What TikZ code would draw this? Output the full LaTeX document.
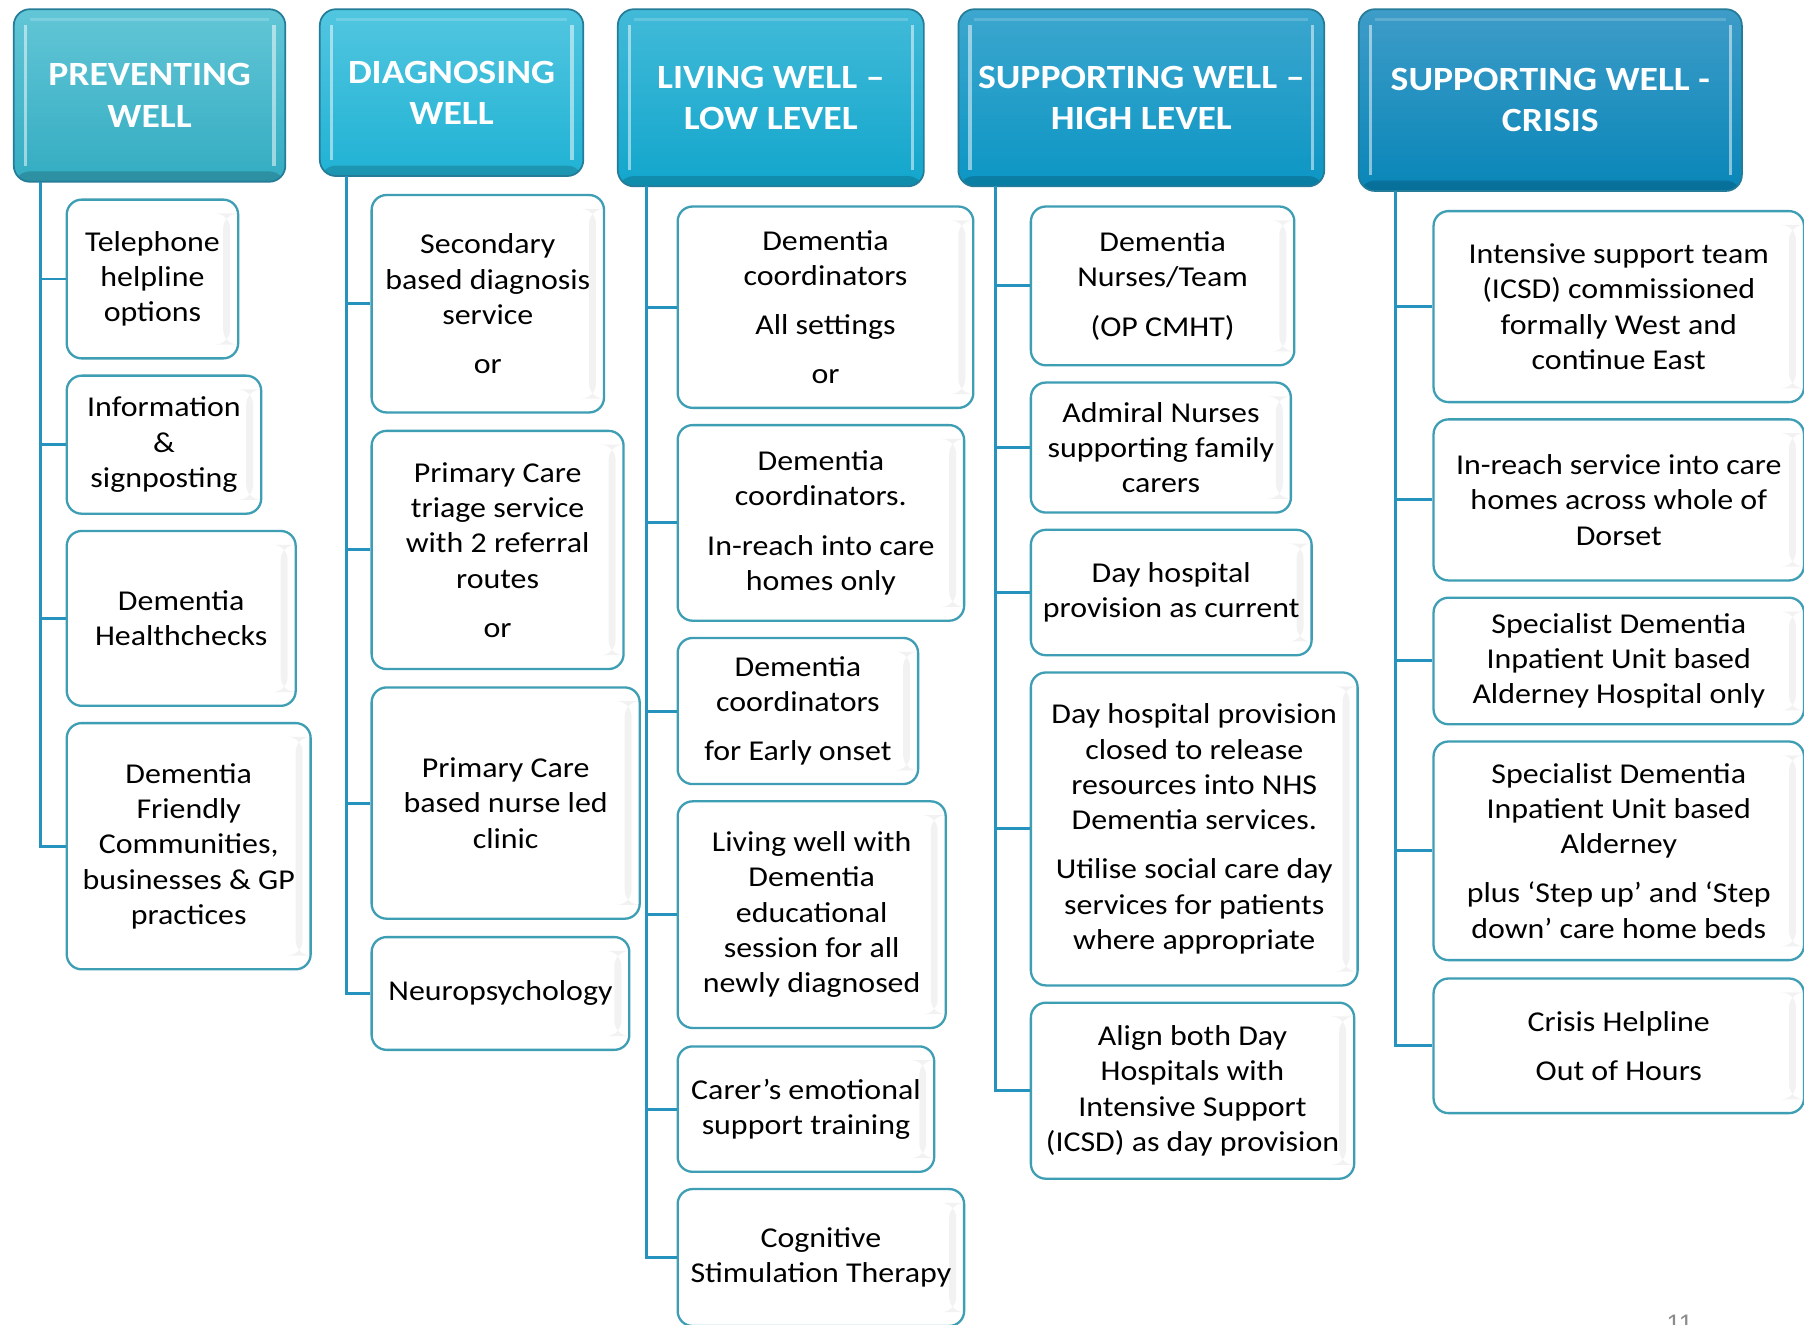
\documentclass[tikz,border=0pt]{standalone}
\usepackage{fontspec}
\setmainfont{Carlito}[FakeStretch=1.11]
\newfontfamily\pgnumfont{Liberation Sans}
\definecolor{connc}{RGB}{38,146,190}
\definecolor{boxc}{RGB}{62,158,180}
\definecolor{rimc}{RGB}{36,124,152}
\definecolor{hAt}{RGB}{98,198,214}\definecolor{hAb}{RGB}{52,172,194}
\definecolor{hBt}{RGB}{82,198,224}\definecolor{hBb}{RGB}{32,178,212}
\definecolor{hCt}{RGB}{66,186,216}\definecolor{hCb}{RGB}{18,166,204}
\definecolor{hDt}{RGB}{60,166,206}\definecolor{hDb}{RGB}{12,150,196}
\definecolor{hEt}{RGB}{62,156,200}\definecolor{hEb}{RGB}{8,134,184}
\newcommand\cb[6]{\node[cbox, minimum width={(#4-#2)*1pt}, minimum height={(#5-#3)*1pt}] (#1) at ({(#2+#4)/2},{(#3+#5)/2+1.5}) {#6};}
\newcommand\hb[8]{\node[hdr, top color=#6, bottom color=#7, minimum width={(#4-#2)*1pt}, minimum height={(#5-#3)*1pt}] (#1) at ({(#2+#4)/2},{(#3+#5)/2}) {#8};}
\begin{document}
\begin{tikzpicture}[x=1pt,y=-1pt,
 conn/.style={draw=connc, line width=2.6pt},
 cbox/.style={draw=boxc, line width=2pt, rounded corners=13pt, fill=white, align=center, inner sep=0pt,
   font=\fontsize{25}{30.7}\selectfont, text=black,
   path picture={\fill[black,opacity=0.05] ([xshift=-13pt,yshift=-12pt]path picture bounding box.north east) rectangle ([xshift=-7pt,yshift=12pt]path picture bounding box.south east);}},
 hdr/.style={draw=rimc, line width=1.5pt, rounded corners=14pt, text=white, align=center, inner sep=0pt,
   font=\fontsize{29.5}{36}\selectfont\bfseries,
   path picture={
     \fill[black,opacity=0.16] ([yshift=9pt]path picture bounding box.south west) rectangle (path picture bounding box.south east);
     \draw[white,opacity=0.5,line width=3pt] ([xshift=10pt,yshift=-14pt]path picture bounding box.north west) -- ([xshift=10pt,yshift=14pt]path picture bounding box.south west);
     \draw[white,opacity=0.5,line width=3pt] ([xshift=-10pt,yshift=-14pt]path picture bounding box.north east) -- ([xshift=-10pt,yshift=14pt]path picture bounding box.south east);
     \draw[white,opacity=0.18,line width=2pt] ([xshift=14pt,yshift=-9pt]path picture bounding box.north west) -- ([xshift=-14pt,yshift=-9pt]path picture bounding box.north east);
   }}]
\useasboundingbox (0,0) rectangle (1568,1151);
\clip (0,0) rectangle (1568,1151);
\fill[white] (0,0) rectangle (1568,1151);
% headers
\hb{h1}{12}{8}{248}{158}{hAt}{hAb}{PREVENTING\\WELL}
\hb{h2}{278}{8}{507}{153}{hBt}{hBb}{DIAGNOSING\\WELL}
\hb{h3}{537}{8}{803}{162}{hCt}{hCb}{LIVING WELL –\\LOW LEVEL}
\hb{h4}{833}{8}{1151}{162}{hDt}{hDb}{SUPPORTING WELL –\\HIGH LEVEL}
\hb{h5}{1181}{8}{1514}{166}{hEt}{hEb}{SUPPORTING WELL -\\CRISIS}
% column 1
\cb{c1a}{58}{172}{207}{310}{Telephone\\helpline\\options}
\cb{c1b}{58}{325}{227}{445}{Information\\\&\\signposting}
\cb{c1c}{58}{460}{257}{612}{Dementia\\Healthchecks}
\cb{c1d}{58}{627}{270}{841}{Dementia\\Friendly\\Communities,\\businesses \& GP\\practices}
% column 2
\cb{c2a}{323}{168}{525}{357}{Secondary\\based diagnosis\\service\\[12pt]or}
\cb{c2b}{323}{373}{542}{580}{Primary Care\\triage service\\with 2 referral\\routes\\[12pt]or}
\cb{c2c}{323}{596}{556}{797}{Primary Care\\based nurse led\\clinic}
\cb{c2d}{323}{813}{547}{911}{Neuropsychology}
% column 3
\cb{c3a}{589}{178}{846}{353}{Dementia\\coordinators\\[12pt]All settings\\[12pt]or}
\cb{c3b}{589}{368}{838}{538}{Dementia\\coordinators.\\[12pt]In-reach into care\\homes only}
\cb{c3c}{589}{553}{798}{680}{Dementia\\coordinators\\[12pt]for Early onset}
\cb{c3d}{589}{695}{822}{892}{Living well with\\Dementia\\educational\\session for all\\newly diagnosed}
\cb{c3e}{589}{908}{812}{1017}{Carer’s emotional\\support training}
\cb{c3f}{589}{1032}{838}{1151}{Cognitive\\Stimulation Therapy}
% column 4
\cb{c4a}{896}{178}{1125}{316}{Dementia\\Nurses/Team\\[12pt](OP CMHT)}
\cb{c4b}{896}{331}{1122}{444}{Admiral Nurses\\supporting family\\carers}
\cb{c4c}{896}{459}{1140}{568}{Day hospital\\provision as current}
\cb{c4d}{896}{583}{1180}{855}{Day hospital provision\\closed to release\\resources into NHS\\Dementia services.\\[12pt]Utilise social care day\\services for patients\\where appropriate}
\cb{c4e}{896}{870}{1177}{1023}{Align both Day\\Hospitals with\\Intensive Support\\(ICSD) as day provision}
% column 5
\cb{c5a}{1246}{182}{1568}{348}{Intensive support team\\(ICSD) commissioned\\formally West and\\continue East}
\cb{c5b}{1246}{363}{1568}{503}{In-reach service into care\\homes across whole of\\Dorset}
\cb{c5c}{1246}{518}{1568}{628}{Specialist Dementia\\Inpatient Unit based\\Alderney Hospital only}
\cb{c5d}{1246}{643}{1568}{833}{Specialist Dementia\\Inpatient Unit based\\Alderney\\[12pt]plus ‘Step up’ and ‘Step\\down’ care home beds}
\cb{c5e}{1246}{849}{1568}{966}{Crisis Helpline\\[12pt]Out of Hours}
% spines
\coordinate (s1) at (35,158);
\coordinate (s2) at (301,153);
\coordinate (s3) at (562,162);
\coordinate (s4) at (865,162);
\coordinate (s5) at (1213,166);
\draw[conn] (s1) |- (c1d.west);
\foreach \n in {c1a,c1b,c1c} \draw[conn] (s1 |- \n.west) -- (\n.west);
\draw[conn] (s2) |- (c2d.west);
\foreach \n in {c2a,c2b,c2c} \draw[conn] (s2 |- \n.west) -- (\n.west);
\draw[conn] (s3) |- (c3f.west);
\foreach \n in {c3a,c3b,c3c,c3d,c3e} \draw[conn] (s3 |- \n.west) -- (\n.west);
\draw[conn] (s4) |- (c4e.west);
\foreach \n in {c4a,c4b,c4c,c4d} \draw[conn] (s4 |- \n.west) -- (\n.west);
\draw[conn] (s5) |- (c5e.west);
\foreach \n in {c5a,c5b,c5c,c5d} \draw[conn] (s5 |- \n.west) -- (\n.west);
% page number (cut off at the lower edge, as in the reference)
\node[anchor=north, inner sep=0pt, text=black!45, font=\pgnumfont\fontsize{22}{26}\selectfont] (pg) at (1460,1143) {11};
\end{tikzpicture}
\end{document}
